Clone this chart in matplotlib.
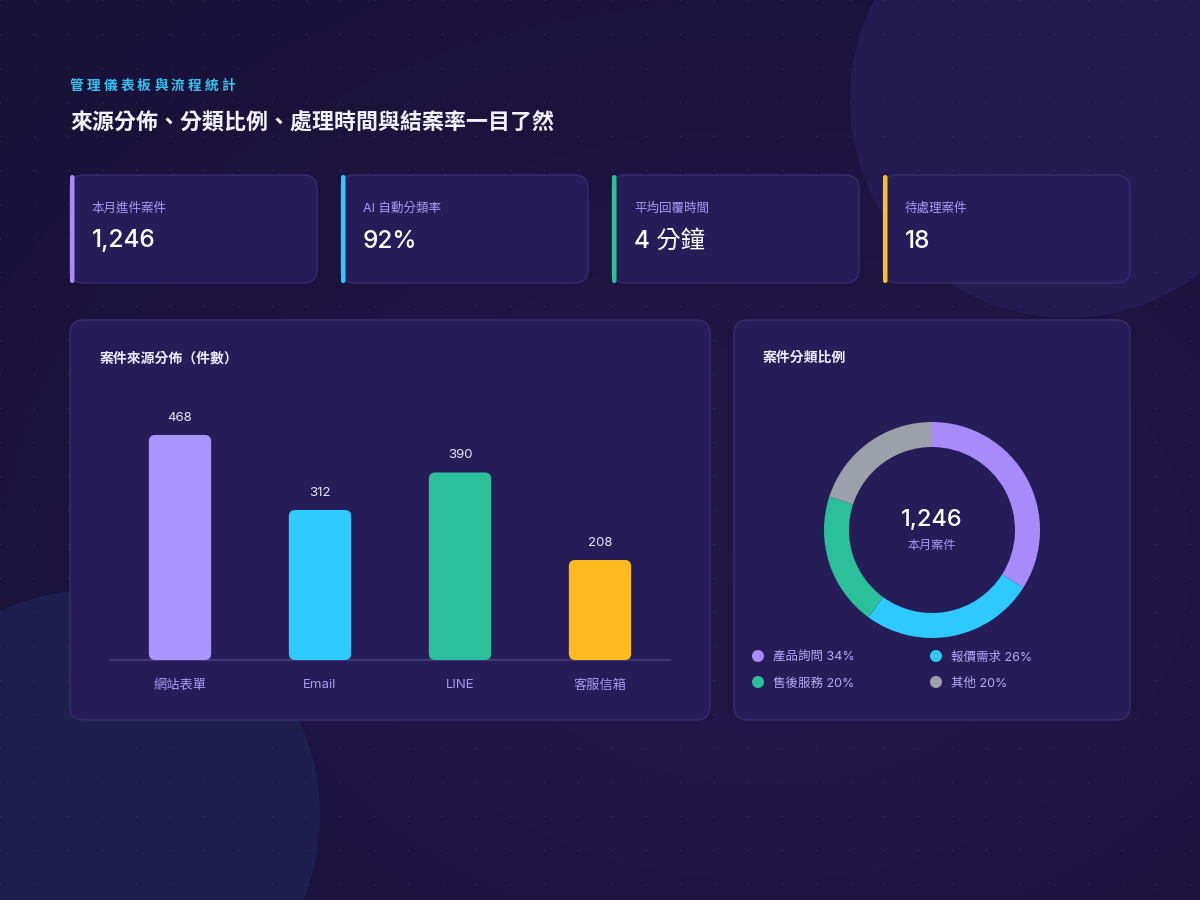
import matplotlib
matplotlib.use('Agg')
import numpy as np
import matplotlib.pyplot as plt
from matplotlib.patches import FancyBboxPatch, Circle
from matplotlib.colors import LinearSegmentedColormap

plt.rcParams['font.family'] = ['Inter', 'Noto Sans CJK TC', 'DejaVu Sans']

# --- data ---
kpi_labels = ['本月進件案件', 'AI 自動分類率', '平均回覆時間', '待處理案件']
kpi_values = ['1,246', '92%', '4 分鐘', '18']
kpi_colors = ['#a78bfa', '#2ec9ff', '#2bbf9a', '#fbbf24']

sources = ['網站表單', 'Email', 'LINE', '客服信箱']
source_counts = [468, 312, 390, 208]
source_colors = ['#a995fd', '#2ecbff', '#2bc09b', '#fdba21']

cat_labels = ['產品詢問', '報價需求', '售後服務', '其他']
cat_pct = [34, 26, 20, 20]
cat_colors = ['#a78bfa', '#2ec9ff', '#2bbf9a', '#9ca0ab']
total_cases = '1,246'

BG = '#1b1439'
CARD = '#261c57'
EDGE = '#342a6a'
LABEL = '#a99af5'

fig = plt.figure(figsize=(12, 9), dpi=100)
fig.patch.set_facecolor(BG)

# background layer in pixel coordinates
bg = fig.add_axes([0, 0, 1, 1], zorder=0)
bg.set_xlim(0, 1200)
bg.set_ylim(900, 0)
bg.axis('off')

# faint glow over the base colour
yy, xx = np.mgrid[0:900:10, 0:1200:10]
glow = np.exp(-(((xx - 760) / 650) ** 2 + ((yy - 560) / 480) ** 2))
cmap = LinearSegmentedColormap.from_list('bgglow', ['#191237', '#211747'])
bg.imshow(glow, extent=(0, 1200, 900, 0), cmap=cmap, aspect='auto', zorder=0,
          interpolation='bilinear')

bg.add_patch(Circle((1068, 100), 218, color='#241b50', lw=0, zorder=1))
bg.add_patch(Circle((95, 815), 225, color='#1e1f4c', lw=0, zorder=1))

gx, gy = np.meshgrid(np.arange(0, 1201, 34), np.arange(0, 901, 34))
bg.scatter(gx.ravel(), gy.ravel(), s=1.6, color='#3a3170', alpha=0.6, lw=0, zorder=2)

# kicker with letter spacing
kicker = '管理儀表板與流程統計'
for k, ch in enumerate(kicker):
    bg.text(70 + k * 16.8, 86, ch, color='#35c3f0', fontsize=9.8, fontweight='bold',
            va='center', ha='left', zorder=5)
bg.text(70, 123, '來源分佈、分類比例、處理時間與結案率一目了然', color='#f4f2ff', fontsize=15.8,
        fontweight='bold', va='center', ha='left', zorder=5)

def card(x0, y0, w, h):
    bg.add_patch(FancyBboxPatch((x0, y0), w, h, boxstyle='round,pad=0,rounding_size=14',
                                fc=CARD, ec=EDGE, lw=1.2, zorder=3))

# KPI cards
for i in range(4):
    x0 = 70 + i * 271
    card(x0, 175, 247, 108)
    bg.add_patch(FancyBboxPatch((x0, 175), 4.5, 108, boxstyle='round,pad=0,rounding_size=2.2',
                                fc=kpi_colors[i], ec='none', zorder=4))
    bg.text(x0 + 22, 209, kpi_labels[i], color=LABEL, fontsize=9, va='center', zorder=5)
    bg.text(x0 + 22, 241, kpi_values[i], color='#ffffff', fontsize=17.5, fontweight='medium',
            va='center', zorder=5)

# panels
card(70, 320, 640, 400)
card(734, 320, 396, 400)
bg.text(99, 359, '案件來源分佈（件數）', color='#efebff', fontsize=10, fontweight='bold',
        va='center', zorder=5)
bg.text(762, 358, '案件分類比例', color='#efebff', fontsize=10, fontweight='bold',
        va='center', zorder=5)

# --- bar chart ---
px_per_unit = 225 / 468
ymax = 540
ax = fig.add_axes([110 / 1200, 240 / 900, 560 / 1200, ymax * px_per_unit / 900], zorder=2)
ax.patch.set_alpha(0)
x = np.arange(len(sources))
bars = ax.bar(x, source_counts, width=0.445, color=source_colors)
ax.set_xlim(-0.5, len(sources) - 0.5)
ax.set_ylim(0, ymax)
aspect = 140 / px_per_unit
for b, c in zip(bars, source_colors):
    b.set_visible(False)
    ax.add_patch(FancyBboxPatch((b.get_x(), 0), b.get_width(), b.get_height(),
                                boxstyle='round,pad=0,rounding_size=0.045',
                                mutation_aspect=aspect, fc=c, ec='none', zorder=3))
    ax.annotate(f'{int(b.get_height())}', (b.get_x() + b.get_width() / 2, b.get_height()),
                xytext=(0, 12.3), textcoords='offset points', ha='center', va='center',
                color='#ebe7ff', fontsize=9.5)
for s in ['top', 'right', 'left']:
    ax.spines[s].set_visible(False)
ax.spines['bottom'].set_color('#3f3673')
ax.spines['bottom'].set_linewidth(1.6)
ax.set_yticks([])
ax.set_xticks(x)
ax.set_xticklabels(sources, color=LABEL, fontsize=9.5)
ax.tick_params(axis='x', length=0, pad=14)

# --- donut ---
r = 108
dax = fig.add_axes([(932 - r) / 1200, (900 - 530 - r) / 900, 2 * r / 1200, 2 * r / 900], zorder=2)
dax.pie(cat_pct, colors=cat_colors, startangle=90, counterclock=False, radius=1,
        wedgeprops=dict(width=25 / 108, edgecolor='none'))
dax.set_aspect('equal')
dax.set_xlim(-1, 1)
dax.set_ylim(-1, 1)
dax.text(0, 0.09, total_cases, ha='center', va='center', color='#ffffff', fontsize=17,
         fontweight='medium')
dax.text(0, -0.15, '本月案件', ha='center', va='center', color=LABEL, fontsize=8.7)

# legend
for i, (lab, p, c) in enumerate(zip(cat_labels, cat_pct, cat_colors)):
    lx = 758 + (i % 2) * 178
    ly = 656 + (i // 2) * 26
    bg.add_patch(Circle((lx, ly), 6, color=c, lw=0, zorder=5))
    bg.text(lx + 15, ly + 1.5, f'{lab} {p}%', color='#b7a9f6', fontsize=9, va='center', zorder=5)

fig.savefig('out.png', dpi=100, facecolor=BG)
